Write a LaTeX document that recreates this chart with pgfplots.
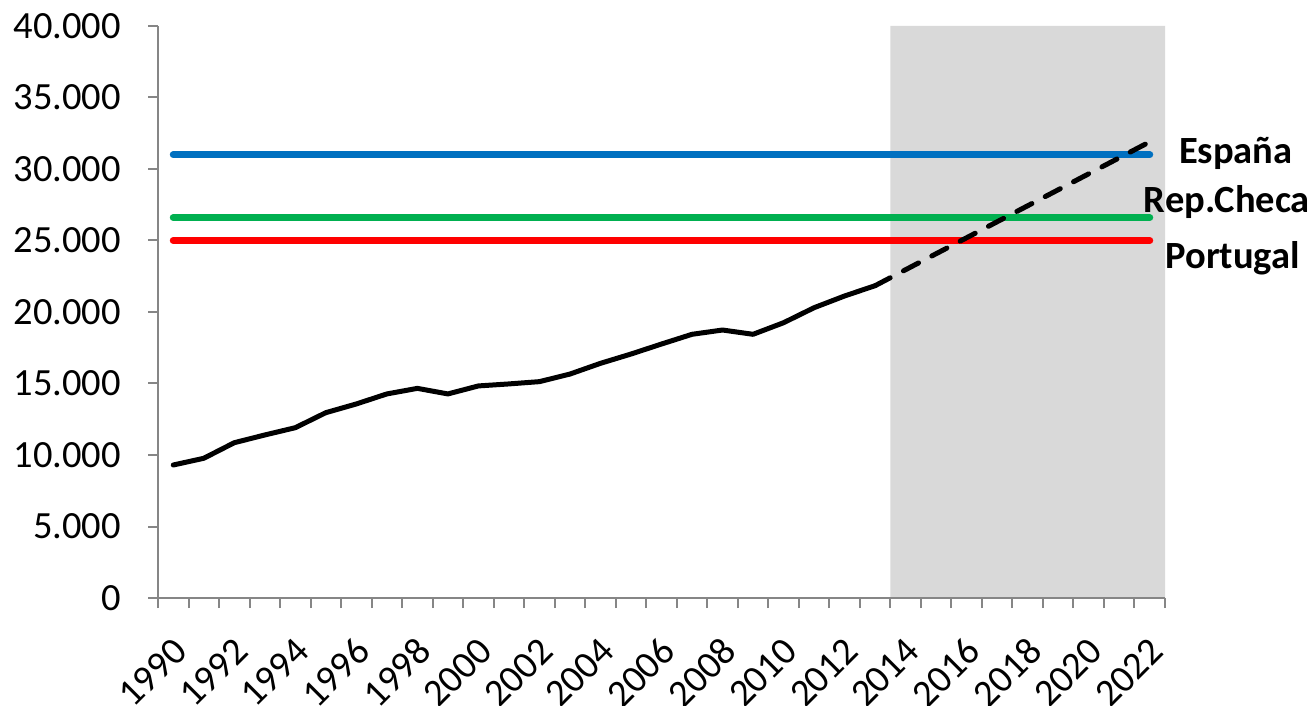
\documentclass[border=0pt]{standalone}
\usepackage{fontspec}
\setmainfont{Carlito}
\usepackage{pgfplots}
\pgfplotsset{compat=1.18}

\definecolor{esblue}{RGB}{0,112,192}
\definecolor{czgreen}{RGB}{0,176,80}
\definecolor{ptred}{RGB}{255,0,0}
\definecolor{shade}{RGB}{217,217,217}
\definecolor{axgray}{RGB}{134,134,134}

\begin{document}
\begin{tikzpicture}
\fontsize{38.5}{46}\selectfont
% picture frame: axis box sits at (0,0)-(1007pt,572pt)
\path[use as bounding box] (-158pt,-108pt) rectangle (1158pt,598pt);
\begin{axis}[
    at={(0,0)}, anchor=south west,
    scale only axis,
    width=1007pt, height=572pt,
    xmin=1989.5, xmax=2022.5,
    ymin=0, ymax=40000,
    axis lines*=left,
    axis line style={axgray, line width=2pt},
    axis on top,
    clip=false,
    xtick={1990,1992,...,2022},
    major x tick style={draw=none},
    minor xtick={1989.5,1990.5,...,2022.5},
    minor x tick style={axgray, line width=2pt},
    minor tick length=10pt,
    ytick={0,5000,...,40000},
    major y tick style={axgray, line width=2pt},
    major tick length=10pt,
    tick align=outside,
    scaled y ticks=false,
    yticklabel style={/pgf/number format/fixed, /pgf/number format/1000 sep={.},
        /pgf/number format/assume math mode=true, inner sep=3pt, xshift=-24pt},
    xticklabel style={/pgf/number format/1000 sep={}, /pgf/number format/assume math mode=true,
        rotate=45, anchor=east, inner sep=1pt, yshift=-31pt, xshift=-20pt},
    tick label style={font=\fontsize{38.5}{46}\selectfont},
]

% projection period shading
\addplot[fill=shade, draw=none] coordinates {
    (2013.5,0) (2013.5,40000) (2022.5,40000) (2022.5,0)
} \closedcycle;

% reference levels
\addplot[esblue, line width=7pt, line cap=round] coordinates {(1990,31000) (2022,31000)};
\addplot[czgreen, line width=7pt, line cap=round] coordinates {(1990,26600) (2022,26600)};
\addplot[ptred, line width=7pt, line cap=round] coordinates {(1990,25000) (2022,25000)};

% observed series
\addplot[black, line width=5pt, line join=round, line cap=round] coordinates {
    (1990,9300) (1991,9770) (1992,10860) (1993,11400) (1994,11910)
    (1995,12960) (1996,13570) (1997,14270) (1998,14660) (1999,14270)
    (2000,14830) (2001,14970) (2002,15130) (2003,15660) (2004,16410)
    (2005,17060) (2006,17760) (2007,18440) (2008,18740) (2009,18440)
    (2010,19250) (2011,20300) (2012,21120) (2013,21840)
};

% projection
\addplot[black, line width=5pt, line cap=round, dash pattern=on 17pt off 15pt] coordinates {
    (2013,21840) (2022,31900)
};

\node[font=\bfseries, anchor=base] at (axis cs:2024.82,30350) {España};
\node[font=\bfseries, anchor=base] at (axis cs:2024.53,26990) {Rep.Checa};
\node[font=\bfseries, anchor=base] at (axis cs:2024.72,23010) {Portugal};
\end{axis}
\end{tikzpicture}
\end{document}
